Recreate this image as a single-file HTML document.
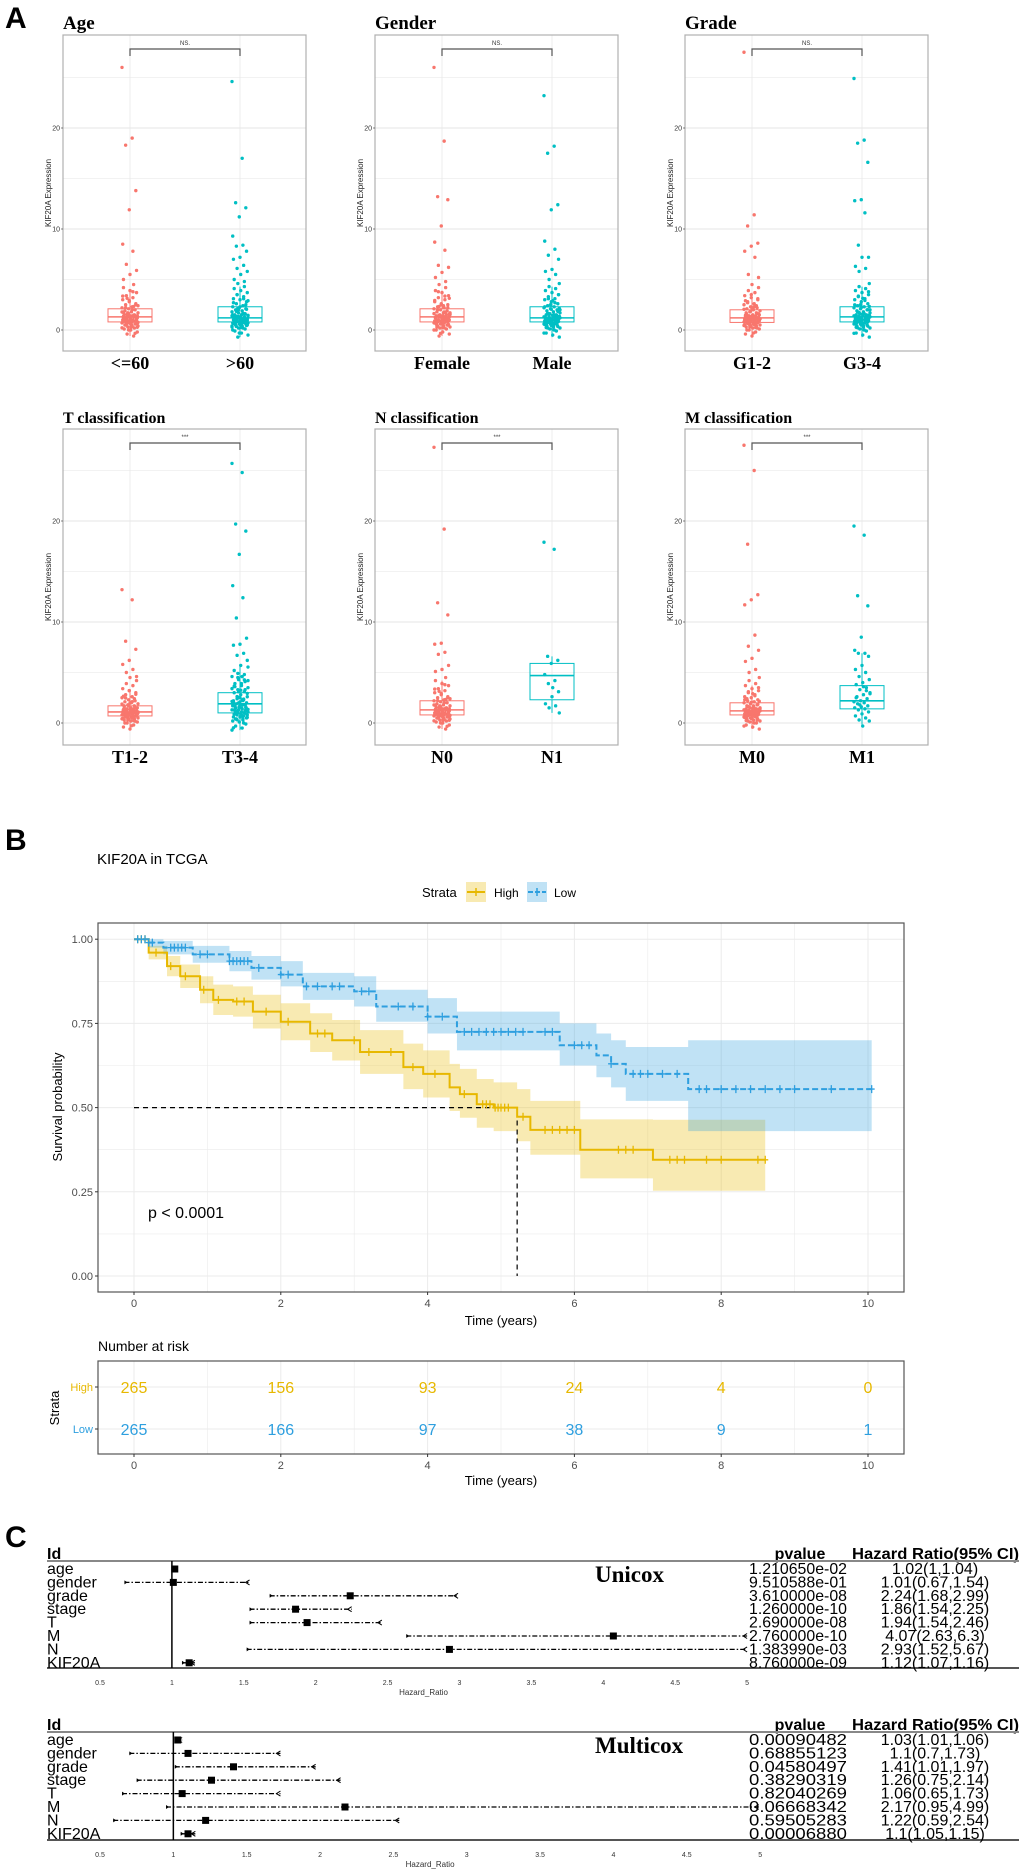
<!DOCTYPE html>
<html><head><meta charset="utf-8">
<style>
html,body{margin:0;padding:0;background:#fff;}
svg{display:block;}
</style></head>
<body>
<svg id="fig" width="1020" height="1875" viewBox="0 0 1020 1875" xmlns="http://www.w3.org/2000/svg" font-family="Liberation Sans, Arial, sans-serif">
<text x="5" y="28" font-size="30" font-weight="bold">A</text>
<text x="5" y="850" font-size="30" font-weight="bold">B</text>
<text x="5" y="1547" font-size="30" font-weight="bold">C</text>
<g id="panelA"></g>
<g id="panelB"></g>
<g id="panelC"></g>
</svg>
<script>
// ---------- Panel A data ----------
const boxTitles = ["Age","Gender","Grade","T classification","N classification","M classification"];
const boxCats = [["<=60",">60"],["Female","Male"],["G1-2","G3-4"],["T1-2","T3-4"],["N0","N1"],["M0","M1"]];
const boxSig = ["NS.","NS.","NS.","***","***","***"];
const boxQ1 = [[0.8,0.8],[0.8,0.8],[0.75,0.8],[0.7,1.0],[0.8,2.3],[0.8,1.4]];
const boxMed = [[1.3,1.2],[1.3,1.2],[1.2,1.3],[1.1,1.9],[1.3,4.7],[1.2,2.2]];
const boxQ3 = [[2.1,2.3],[2.1,2.3],[2.0,2.3],[1.7,3.0],[2.2,5.9],[2.0,3.7]];
const yTicksA = [0,10,20];
const denseA = [-0.6,-0.4,-0.2,0.0,0.1,0.2,0.3,0.4,0.5,0.5,0.6,0.7,0.7,0.8,0.8,0.9,0.9,1.0,1.0,1.1,1.1,1.2,1.2,1.3,1.3,1.4,1.4,1.5,1.5,1.6,1.7,1.8,1.9,2.0,2.1,2.2,2.3,2.5,2.6,2.8,3.0,3.2,3.4,3.7,3.9,4.2,4.5,1.0,1.2,0.6,0.9,1.4,1.7,2.4,0.3,1.1];
const denseB = [-0.7,-0.5,-0.3,-0.1,0.1,0.2,0.3,0.4,0.5,0.6,0.6,0.7,0.8,0.8,0.9,0.9,1.0,1.0,1.1,1.1,1.2,1.2,1.3,1.3,1.4,1.5,1.5,1.6,1.7,1.8,1.9,2.0,2.1,2.2,2.3,2.4,2.6,2.8,3.0,3.1,3.3,3.5,3.7,3.9,4.1,4.3,4.6,0.7,1.0,1.3,1.6,2.0,0.4,1.1,0.9,2.5];
const denseC = [-0.3,0.0,0.2,0.35,0.45,0.55,0.65,0.75,0.85,0.95,1.05,1.15,1.25,1.35,1.45,0.6,0.8,1.0,1.2,1.4,0.7,0.9,1.1,1.3,1.5,1.65,1.85,2.05,2.3,2.7,3.1,3.5,0.5,0.85,1.15,1.6,2.15,2.9,0.25,1.0];
const ptsAge = [[26,19,18.3,13.8,11.9,8.5,7.8,6.5,5.9,5.5,5.0],[24.6,17,12.6,12.1,11.2,9.3,8.4,8.3,7.8,7.2,7.0,6.4,6.1,5.8,5.5,5.0,4.8]];
const ptsGender = [[26,18.7,13.2,12.9,10.3,8.7,7.9,6.4,6.2,5.7,5.2,4.8],[23.2,18.2,17.5,12.4,11.9,8.8,8.0,7.4,7.0,6.0,5.8,5.5,5.0]];
const ptsGrade = [[27.5,11.4,10.3,8.6,8.3,7.8,7.2,5.5,5.2],[24.9,18.8,18.5,16.6,12.9,12.8,11.6,8.4,7.2,7.2,6.3,6.1,5.8]];
const ptsT = [[13.2,12.2,8.1,7.3,6.2,5.8,5.3,5.0,4.6],[25.7,24.8,19.7,19.0,16.7,13.6,12.4,10.4,8.4,7.8,7.7,6.9,6.7,6.2,5.7,5.2,4.8,4.5,4.2,3.9,3.6,3.3,3.1]];
const ptsN = [[27.3,19.2,11.9,10.7,7.9,7.8,7.0,6.8,5.7,5.3,5.1],[17.9,17.2,6.6,6.2,5.9,4.8,4.2,3.9,3.1,2.6,1.9,1.7,1.5,1.0,3.5]];
const ptsM = [[27.5,25.0,17.7,12.7,12.2,11.7,8.7,7.6,7.2,6.4,6.1,5.3,5.0],[19.5,18.6,12.6,11.6,8.5,7.2,6.9,6.9,6.6,5.7,5.3,5.0,4.6,4.3,4.0,3.8,3.5,3.3,3.0,2.8,2.6,2.4,2.2,2.1,2.0,1.9,1.7,1.6,1.5,1.4,1.3,1.1,0.9,0.7,0.5,0.3,0.2,-0.3,2.5,3.2,1.8,2.9,3.6]];
const panelOutliers = [ptsAge,ptsGender,ptsGrade,ptsT,ptsN,ptsM];
const panelUseDense = [[true,true],[true,true],[true,true],[true,true],[true,false],[true,false]];

// ---------- Panel B data ----------
const kmHighT = [0,0.2,0.45,0.63,0.9,1.08,1.35,1.62,2.0,2.4,2.7,3.08,3.67,3.94,4.3,4.44,4.67,4.9,5.22,5.4,6.08,7.07];
const kmHighS = [1.0,0.96,0.92,0.89,0.85,0.82,0.815,0.785,0.755,0.72,0.70,0.665,0.62,0.60,0.56,0.54,0.51,0.50,0.473,0.434,0.375,0.345];
const kmHighLo = [1.0,0.94,0.89,0.855,0.81,0.775,0.77,0.735,0.70,0.665,0.64,0.60,0.555,0.53,0.49,0.47,0.44,0.43,0.40,0.36,0.29,0.253];
const kmHighHi = [1.0,0.98,0.95,0.925,0.89,0.865,0.86,0.835,0.81,0.78,0.76,0.73,0.69,0.67,0.63,0.615,0.585,0.575,0.555,0.52,0.465,0.464];
const kmHighEnd = 8.6;
const kmLowT = [0,0.2,0.4,0.8,1.3,1.6,2.0,2.3,3.0,3.3,4.0,4.4,5.8,6.3,6.5,6.7,7.55];
const kmLowS = [1.0,0.99,0.975,0.955,0.935,0.915,0.895,0.86,0.845,0.80,0.77,0.725,0.685,0.655,0.63,0.60,0.555];
const kmLowLo = [1.0,0.975,0.955,0.93,0.905,0.88,0.86,0.82,0.80,0.755,0.72,0.67,0.625,0.59,0.56,0.52,0.43];
const kmLowHi = [1.0,1.0,0.995,0.98,0.965,0.95,0.935,0.90,0.89,0.85,0.825,0.785,0.75,0.72,0.70,0.68,0.70];
const kmLowEnd = 10.05;
const censHigh = [0.05,0.1,0.15,0.3,0.5,0.7,0.95,1.15,1.4,1.5,1.8,2.1,2.5,2.6,3.0,3.2,3.5,3.8,4.1,4.5,4.75,4.8,4.85,4.92,4.96,5.0,5.05,5.1,5.3,5.6,5.7,5.8,5.9,6.0,6.6,6.7,6.8,7.3,7.4,7.5,7.8,8.0,8.5,8.6];
const censLow = [0.05,0.1,0.15,0.2,0.25,0.5,0.55,0.6,0.65,0.7,0.9,1.0,1.3,1.35,1.4,1.45,1.5,1.55,1.7,2.0,2.1,2.35,2.5,2.7,2.8,3.1,3.2,3.6,3.8,4.0,4.2,4.5,4.6,4.7,4.8,4.9,5.0,5.1,5.2,5.3,5.6,5.7,6.0,6.1,6.2,6.5,6.8,6.9,7.0,7.2,7.4,7.7,7.8,8.0,8.2,8.4,8.6,8.8,9.0,9.5,10.05];
const riskTimes = [0,2,4,6,8,10];
const riskHigh = [265,156,93,24,4,0];
const riskLow = [265,166,97,38,9,1];
const kmXTicks = [0,2,4,6,8,10];
const kmYTicks = [0,0.25,0.5,0.75,1.0];
const medianHigh = 5.22;

// ---------- Panel C data ----------
const coxVars = ["age","gender","grade","stage","T","M","N","KIF20A"];
const uniHR = [1.02,1.01,2.24,1.86,1.94,4.07,2.93,1.12];
const uniLo = [1.0,0.67,1.68,1.54,1.54,2.63,1.52,1.07];
const uniHi = [1.04,1.54,2.99,2.25,2.46,6.3,5.67,1.16];
const uniP = ["1.210650e-02","9.510588e-01","3.610000e-08","1.260000e-10","2.690000e-08","2.760000e-10","1.383990e-03","8.760000e-09"];
const uniTxt = ["1.02(1,1.04)","1.01(0.67,1.54)","2.24(1.68,2.99)","1.86(1.54,2.25)","1.94(1.54,2.46)","4.07(2.63,6.3)","2.93(1.52,5.67)","1.12(1.07,1.16)"];
const multiHR = [1.03,1.1,1.41,1.26,1.06,2.17,1.22,1.1];
const multiLo = [1.01,0.7,1.01,0.75,0.65,0.95,0.59,1.05];
const multiHi = [1.06,1.73,1.97,2.14,1.73,4.99,2.54,1.15];
const multiP = ["0.00090482","0.68855123","0.04580497","0.38290319","0.82040269","0.06668342","0.59505283","0.00006880"];
const multiTxt = ["1.03(1.01,1.06)","1.1(0.7,1.73)","1.41(1.01,1.97)","1.26(0.75,2.14)","1.06(0.65,1.73)","2.17(0.95,4.99)","1.22(0.59,2.54)","1.1(1.05,1.15)"];
const hrTicks = [0.5,1,1.5,2,2.5,3,3.5,4,4.5,5];

const NS = "http://www.w3.org/2000/svg";
function mk(parent, tag, attrs, text){
  const e = document.createElementNS(NS, tag);
  for (const k in attrs) e.setAttribute(k, attrs[k]);
  if (text !== undefined) e.textContent = text;
  parent.appendChild(e);
  return e;
}

// ================= PANEL A =================
(function(){
  const g = document.getElementById('panelA');
  const colX = [63,375,685], rowTop = [35,429], zeroY = [330,723];
  const W = 243, H = 316, pxu = 10.1;
  const colors = ["#F8766D","#00BFC4"];
  for (let p = 0; p < 6; p++) {
    const r = Math.floor(p/3), c = p%3;
    const L = colX[c], T = rowTop[r], z = zeroY[r];
    const yS = v => z - v*pxu;
    const pg = mk(g,'g',{});
    
    
    const tt = mk(pg,'text',{x:L,y:T-6,'font-family':'Liberation Serif, serif','font-weight':'bold','font-size':p<3?19:16},boxTitles[p]);
    
    
    for (let v = 0; v <= 25; v += 5) {
      const y = yS(v); if (y < T) continue;
      mk(pg,'line',{x1:L,x2:L+W,y1:y,y2:y,stroke:'#e4e4e4','stroke-width':v%10===0?0.9:0.5});
    }
    const cx = [L+67, L+177];
    cx.forEach(x=>mk(pg,'line',{x1:x,x2:x,y1:T,y2:T+H,stroke:'#e8e8e8','stroke-width':0.8}));
    mk(pg,'rect',{x:L,y:T,width:W,height:H,fill:'none',stroke:'#b0b0b0','stroke-width':1.2});
    yTicksA.forEach(v=>{
      const y = yS(v);
      mk(pg,'line',{x1:L-2,x2:L,y1:y,y2:y,stroke:'#333','stroke-width':0.6});
      mk(pg,'text',{x:L-3,y:y+2.5,'font-size':7,'text-anchor':'end',fill:'#333'},String(v));
    });
    const yt = mk(pg,'text',{x:0,y:0,'font-size':8,'text-anchor':'middle',fill:'#222',transform:`translate(${L-12},${T+H/2}) rotate(-90)`},'KIF20A Expression');
    
    
    for (let k = 0; k < 2; k++) {
      let pts = panelOutliers[p][k].slice();
      if (panelUseDense[p][k]) pts = pts.concat(k===0?denseA:denseB).concat(denseC.map(v=>v*(boxMed[p][k]/1.2)));
      const q1 = boxQ1[p][k], md = boxMed[p][k], q3 = boxQ3[p][k], iqr = q3-q1;
      const inHi = pts.filter(v=>v<=q3+1.5*iqr), inLo = pts.filter(v=>v>=q1-1.5*iqr);
      const wlo = Math.min(...inLo), whi = Math.max(...inHi);
      const col = colors[k], x = cx[k];
      mk(pg,'line',{x1:x,x2:x,y1:yS(q3),y2:yS(whi),stroke:col,'stroke-width':1});
      mk(pg,'line',{x1:x,x2:x,y1:yS(q1),y2:yS(wlo),stroke:col,'stroke-width':1});
      const bx = mk(pg,'rect',{x:x-22,y:yS(q3),width:44,height:yS(q1)-yS(q3),fill:'none',stroke:col,'stroke-width':1});
      
      
      mk(pg,'line',{x1:x-22,x2:x+22,y1:yS(md),y2:yS(md),stroke:col,'stroke-width':1.6});
      pts.forEach((v,i)=>{
        const jit = (((i*37)%23)-11)/11*8;
        const d = mk(pg,'circle',{cx:x+jit,cy:yS(v),r:1.7,fill:col});
        
        
      });
      const cl = mk(pg,'text',{x:x,y:T+H+18,'font-family':'Liberation Serif, serif','font-weight':'bold','font-size':18,'text-anchor':'middle'},boxCats[p][k]);
      
      
    }
    const by = T+14;
    mk(pg,'path',{d:`M${cx[0]},${by+7}V${by}H${cx[1]}V${by+7}`,fill:'none',stroke:'#555','stroke-width':1.2});
    mk(pg,'text',{x:(cx[0]+cx[1])/2,y:by-4,'font-size':6,'text-anchor':'middle',fill:'#333'},boxSig[p]);
  }
})();

// ================= PANEL B =================
(function(){
  const g = document.getElementById('panelB');
  const L=98, R=904, T=923, B=1292;
  const xS = t => 134 + t*73.4;
  const yS = s => 1276 - s*336.8;
  const HC = "#E7B800", LC = "#2E9FDF";
  mk(g,'text',{x:97,y:864,'font-size':15},'KIF20A in TCGA');
  const lg = mk(g,'g',{});
  
  
  mk(lg,'text',{x:422,y:897,'font-size':13},'Strata');
  mk(lg,'rect',{x:466,y:882,width:20,height:20,fill:HC,'fill-opacity':0.3});
  mk(lg,'line',{x1:467,x2:485,y1:892,y2:892,stroke:HC,'stroke-width':2});
  mk(lg,'line',{x1:476,x2:476,y1:888,y2:896,stroke:HC,'stroke-width':1.5});
  mk(lg,'text',{x:494,y:897,'font-size':12},'High');
  mk(lg,'rect',{x:527,y:882,width:20,height:20,fill:LC,'fill-opacity':0.3});
  mk(lg,'line',{x1:528,x2:546,y1:892,y2:892,stroke:LC,'stroke-width':2,'stroke-dasharray':'5,2'});
  mk(lg,'line',{x1:537,x2:537,y1:888,y2:896,stroke:LC,'stroke-width':1.5});
  mk(lg,'text',{x:554,y:897,'font-size':12},'Low');
  for (let t=0;t<=10;t++) mk(g,'line',{x1:xS(t),x2:xS(t),y1:T,y2:B,stroke:'#ebebeb','stroke-width':t%2===0?1:0.6});
  for (let s=0;s<=1.0001;s+=0.125) mk(g,'line',{x1:L,x2:R,y1:yS(s),y2:yS(s),stroke:'#ebebeb','stroke-width':(Math.round(s*8)%2===0)?1:0.6});
  function stepPath(ts, ss, end){
    let d = `M${xS(ts[0])},${yS(ss[0])}`;
    for (let i=1;i<ts.length;i++) d += `H${xS(ts[i])}V${yS(ss[i])}`;
    return d + `H${xS(end)}`;
  }
  function band(ts, lo, hi, end){
    let d = `M${xS(ts[0])},${yS(hi[0])}`;
    for (let i=1;i<ts.length;i++) d += `H${xS(ts[i])}V${yS(hi[i])}`;
    d += `H${xS(end)}V${yS(lo[lo.length-1])}`;
    for (let i=ts.length-1;i>=1;i--) d += `H${xS(ts[i])}V${yS(lo[i-1])}`;
    return d + `H${xS(ts[0])}Z`;
  }
  const bh = mk(g,'path',{d:band(kmHighT,kmHighLo,kmHighHi,kmHighEnd),fill:HC,'fill-opacity':0.3});
  
  
  const bl = mk(g,'path',{d:band(kmLowT,kmLowLo,kmLowHi,kmLowEnd),fill:LC,'fill-opacity':0.3});
  
  
  const sv = (ts,ss,t)=>{let v=ss[0];for(let i=0;i<ts.length;i++) if(ts[i]<=t) v=ss[i];return v;};
  mk(g,'path',{d:`M${xS(0)},${yS(0.5)}H${xS(medianHigh)}V${yS(0)}`,fill:'none',stroke:'#000','stroke-width':1.2,'stroke-dasharray':'5,4'});
  const lh = mk(g,'path',{d:stepPath(kmHighT,kmHighS,kmHighEnd),fill:'none',stroke:HC,'stroke-width':2});
  
  
  const ll = mk(g,'path',{d:stepPath(kmLowT,kmLowS,kmLowEnd),fill:'none',stroke:LC,'stroke-width':2,'stroke-dasharray':'6,3'});
  
  
  censHigh.forEach(t=>{const x=xS(t),y=yS(sv(kmHighT,kmHighS,t));
    mk(g,'path',{d:`M${x-3},${y}H${x+3}M${x},${y-4}V${y+4}`,stroke:HC,'stroke-width':1.3});});
  censLow.forEach(t=>{const x=xS(t),y=yS(sv(kmLowT,kmLowS,t));
    mk(g,'path',{d:`M${x-3},${y}H${x+3}M${x},${y-4}V${y+4}`,stroke:LC,'stroke-width':1.3});});
  mk(g,'rect',{x:L,y:T,width:R-L,height:B-T,fill:'none',stroke:'#555','stroke-width':1.2});
  kmYTicks.forEach(s=>{
    mk(g,'line',{x1:L-3,x2:L,y1:yS(s),y2:yS(s),stroke:'#333'});
    mk(g,'text',{x:L-5,y:yS(s)+4,'font-size':11,'text-anchor':'end',fill:'#4d4d4d'},s.toFixed(2));
  });
  kmXTicks.forEach(t=>{
    mk(g,'line',{x1:xS(t),x2:xS(t),y1:B,y2:B+3,stroke:'#333'});
    mk(g,'text',{x:xS(t),y:B+15,'font-size':11,'text-anchor':'middle',fill:'#4d4d4d'},String(t));
  });
  mk(g,'text',{x:501,y:1325,'font-size':13,'text-anchor':'middle'},'Time (years)');
  mk(g,'text',{x:0,y:0,'font-size':13,'text-anchor':'middle',transform:`translate(62,1107) rotate(-90)`},'Survival probability');
  const pv = mk(g,'text',{x:148,y:1218,'font-size':16},'p < 0.0001');
  
  
  const rt = mk(g,'g',{});
  
  
  mk(rt,'text',{x:98,y:1351,'font-size':14},'Number at risk');
  const RT=1361, RB=1454, yH=1387, yL=1429;
  for (let t=0;t<=10;t++) mk(rt,'line',{x1:xS(t),x2:xS(t),y1:RT,y2:RB,stroke:'#ebebeb','stroke-width':t%2===0?1:0.6});
  [yH,yL].forEach(y=>mk(rt,'line',{x1:L,x2:R,y1:y,y2:y,stroke:'#ebebeb'}));
  mk(rt,'rect',{x:L,y:RT,width:R-L,height:RB-RT,fill:'none',stroke:'#555','stroke-width':1.2});
  riskTimes.forEach((t,i)=>{
    mk(rt,'text',{x:xS(t),y:yH+6,'font-size':16,'text-anchor':'middle',fill:HC},String(riskHigh[i]));
    mk(rt,'text',{x:xS(t),y:yL+6,'font-size':16,'text-anchor':'middle',fill:LC},String(riskLow[i]));
    mk(rt,'line',{x1:xS(t),x2:xS(t),y1:RB,y2:RB+3,stroke:'#333'});
    mk(rt,'text',{x:xS(t),y:RB+15,'font-size':11,'text-anchor':'middle',fill:'#4d4d4d'},String(t));
  });
  mk(rt,'text',{x:L-5,y:yH+4,'font-size':11,'text-anchor':'end',fill:HC},'High');
  mk(rt,'text',{x:L-5,y:yL+4,'font-size':11,'text-anchor':'end',fill:LC},'Low');
  mk(rt,'line',{x1:L-3,x2:L,y1:yH,y2:yH,stroke:'#333'});
  mk(rt,'line',{x1:L-3,x2:L,y1:yL,y2:yL,stroke:'#333'});
  mk(rt,'text',{x:0,y:0,'font-size':13,'text-anchor':'middle',transform:`translate(59,1408) rotate(-90)`},'Strata');
  mk(rt,'text',{x:501,y:1485,'font-size':13,'text-anchor':'middle'},'Time (years)');
})();

// ================= PANEL C =================
(function(){
  const g = document.getElementById('panelC');
  function forest(name, top, bottom, x05, pxu, hr, lo, hi, pv, txt, label, labelX){
    const fg = mk(g,'g',{});
    
    
    const xS = v => x05 + (v-0.5)*pxu;
    mk(fg,'text',{x:47,y:top-2,'font-size':16,'font-weight':'bold'},'Id');
    mk(fg,'text',{x:800,y:top-2,'font-size':16,'font-weight':'bold','text-anchor':'middle'},'pvalue');
    mk(fg,'text',{x:852,y:top-2,'font-size':16,'font-weight':'bold',textLength:167,lengthAdjust:'spacingAndGlyphs'},'Hazard Ratio(95% CI)');
    mk(fg,'line',{x1:47,x2:1019,y1:top,y2:top,stroke:'#888','stroke-width':2});
    mk(fg,'line',{x1:47,x2:1019,y1:bottom,y2:bottom,stroke:'#555','stroke-width':2});
    mk(fg,'line',{x1:xS(1),x2:xS(1),y1:top,y2:bottom,stroke:'#000','stroke-width':1.5});
    const rowY = i => top + 8 + i*13.4;
    coxVars.forEach((v,i)=>{
      const y = rowY(i);
      mk(fg,'text',{x:47,y:y+5,'font-size':16},v);
      const xe = xS(Math.min(hi[i],5));
      const ci = mk(fg,'line',{x1:xS(lo[i]),x2:xe,y1:y,y2:y,stroke:'#000','stroke-width':1.3,'stroke-dasharray':'5,2,1.5,2'});
      
      
      mk(fg,'path',{d:`M${xS(lo[i])},${y-2}L${xS(lo[i])+3},${y}L${xS(lo[i])},${y+2}Z`,fill:'#000'});
      mk(fg,'path',{d:`M${xe},${y-2.5}L${xe-4},${y}L${xe},${y+2.5}`,fill:'none',stroke:'#000','stroke-width':1});
      const sq = mk(fg,'rect',{x:xS(hr[i])-3.5,y:y-3.5,width:7,height:7,fill:'#000'});
      
      
      mk(fg,'text',{x:847,y:y+5,'font-size':16,'text-anchor':'end',textLength:98,lengthAdjust:'spacingAndGlyphs'},pv[i]);
      mk(fg,'text',{x:935,y:y+5,'font-size':16,'text-anchor':'middle'},txt[i]);
    });
    hrTicks.forEach(t=>mk(fg,'text',{x:xS(t),y:bottom+17,'font-size':7,'text-anchor':'middle',fill:'#333'},String(t)));
    mk(fg,'text',{x:xS(2.75),y:bottom+27,'font-size':8,'text-anchor':'middle',fill:'#333'},'Hazard_Ratio');
    mk(fg,'text',{x:labelX,y:top+21,'font-size':23,'font-weight':'bold','font-family':'Liberation Serif, serif'},label);
  }
  forest('forest-unicox',1561,1668,100,143.8,uniHR,uniLo,uniHi,uniP,uniTxt,'Unicox',595);
  forest('forest-multicox',1732,1840,100,146.7,multiHR,multiLo,multiHi,multiP,multiTxt,'Multicox',595);
})();
</script>
</body></html>
